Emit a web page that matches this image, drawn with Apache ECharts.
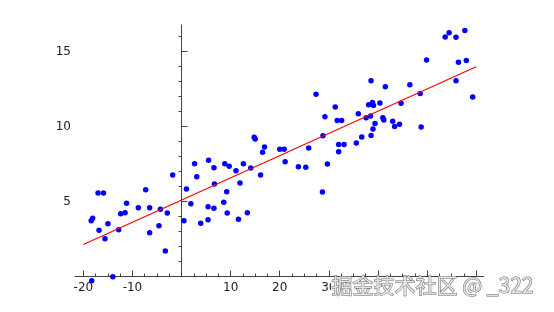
<!DOCTYPE html>
<html>
<head>
<meta charset="utf-8">
<script src="https://cdn.jsdelivr.net/npm/echarts@6/dist/echarts.min.js"></script>
<style>html,body{margin:0;padding:0;background:#fff}#c{width:554px;height:312px}</style>
</head>
<body>
<div id="c"></div>
<script>
var xValues = [-1.8,-17.0,-15.9,-7.3,-11.2,-8.8,-6.5,-4.3,-2.9,-12.4,-11.5,-18.1,-18.4,-15.0,-16.8,-12.8,-6.5,-4.6,-15.6,-3.3,-18.3,-14.0,
  0.5,1.0,1.9,2.65,3.1,3.9,5.5,6.6,6.7,5.4,6.6,5.4,8.8,9.7,9.2,8.6,9.3,11.1,12.6,14.1,11.9,11.6,13.4,14.8,15.0,16.9,16.5,16.1,20.0,20.9,21.1,23.8,25.3,
  38.6,27.4,31.3,38.1,38.9,39.1,40.4,36.0,29.2,31.7,32.6,37.6,38.5,39.4,39.0,38.6,36.7,35.6,33.1,32.0,32.0,28.8,25.9,29.7,28.7,
  57.7,54.5,53.7,55.9,49.9,56.4,58.0,41.5,46.5,55.9,48.6,59.3,44.7,41.0,41.2,43.0,44.4,43.4,48.8];
var yValues = [6.77,5.57,5.57,5.79,4.88,4.59,4.59,4.48,4.23,4.19,4.25,3.88,3.72,3.52,3.08,3.12,2.92,3.39,2.52,1.70,-0.28,-0.01,
  3.72,5.83,4.85,7.52,6.65,3.55,7.75,7.25,6.17,4.65,4.55,3.79,7.52,7.35,5.65,4.95,4.23,7.05,7.52,7.23,6.23,3.81,4.25,9.28,9.17,8.63,8.28,6.77,8.48,8.48,7.65,7.32,7.28,
  13.05,12.15,11.3,11.45,11.61,11.41,11.57,10.85,10.65,10.41,10.41,10.59,10.7,10.21,9.83,9.41,9.3,8.9,8.81,8.81,8.32,9.39,8.57,7.5,5.63,
  16.41,16.25,15.97,15.95,14.43,14.28,14.41,12.65,12.79,13.05,12.21,11.97,11.55,10.59,10.43,10.35,10.15,10.01,9.97];
var fitX = [-20, 60];
var fitY = [2.13, 13.99];
var xTickLabels = [-20,-10,10,20,30,40,50,60];
var xMinorTicks = [-17.5,-15,-12.5,-7.5,-5,-2.5,2.5,5,7.5,12.5,15,17.5,22.5,25,27.5,32.5,35,37.5,42.5,45,47.5,52.5,55,57.5];
var yTickLabels = [5,10,15];
var yMinorTicks = [1,2,3,4,6,7,8,9,11,12,13,14,16];

var pts = xValues.map(function(x,i){return [x, yValues[i]];});
var fitPts = fitX.map(function(x,i){return [x, fitY[i]];});
var axisColor = '#444';
var lblStyle = {color:'#222', fontSize:12, fontFamily:'DejaVu Sans'};
var chart = echarts.init(document.getElementById('c'));
chart.setOption({
  animation:false,
  grid:{left:75, right:70.5, top:25, bottom:35.5, containLabel:false},
  xAxis:[{
    type:'value', min:-21.7, max:61.5, position:'bottom',
    axisLine:{show:true, onZero:false, lineStyle:{color:axisColor, width:1}},
    axisTick:{show:true, inside:true, length:6, customValues:xTickLabels, lineStyle:{color:axisColor}},
    axisLabel:Object.assign({show:true, margin:5, customValues:xTickLabels}, lblStyle),
    splitLine:{show:false}
  },{
    type:'value', min:-21.7, max:61.5, position:'bottom',
    axisLine:{show:false, onZero:false},
    axisTick:{show:true, inside:true, length:3, customValues:xMinorTicks, lineStyle:{color:axisColor}},
    axisLabel:{show:false}, splitLine:{show:false}
  }],
  yAxis:[{
    type:'value', min:0, max:16.77,
    axisLine:{show:true, onZero:true, onZeroAxisIndex:0, lineStyle:{color:axisColor, width:1}},
    axisTick:{show:true, inside:true, length:6, customValues:yTickLabels, lineStyle:{color:axisColor}},
    axisLabel:Object.assign({show:true, margin:4, customValues:yTickLabels}, lblStyle),
    splitLine:{show:false}
  },{
    type:'value', min:0, max:16.77,
    axisLine:{show:false, onZero:true, onZeroAxisIndex:0},
    axisTick:{show:true, inside:true, length:3, customValues:yMinorTicks, lineStyle:{color:axisColor}},
    axisLabel:{show:false}, splitLine:{show:false}
  }],
  series:[{
    type:'scatter', data:pts, xAxisIndex:0, yAxisIndex:0, clip:false,
    symbolSize:5.5, itemStyle:{color:'#0000ff', opacity:1}
  },{
    type:'line', data:fitPts, xAxisIndex:0, yAxisIndex:0, showSymbol:false, symbol:'none',
    lineStyle:{color:'#ff0000', width:1.2}, z:3
  }],
  graphic:[{
    type:'rect', left:331, top:278, z:99, shape:{width:215, height:22},
    style:{fill:'rgba(255,255,255,0.92)'}
  },{
    type:'text', left:331, top:274, z:100,
    style:{text:'掘金技术社区 @ _322', fontSize:21, fontFamily:'Noto Sans CJK SC',
      fill:'#e4e4e4', stroke:'#666', lineWidth:1}
  }]
});
</script>
</body>
</html>
